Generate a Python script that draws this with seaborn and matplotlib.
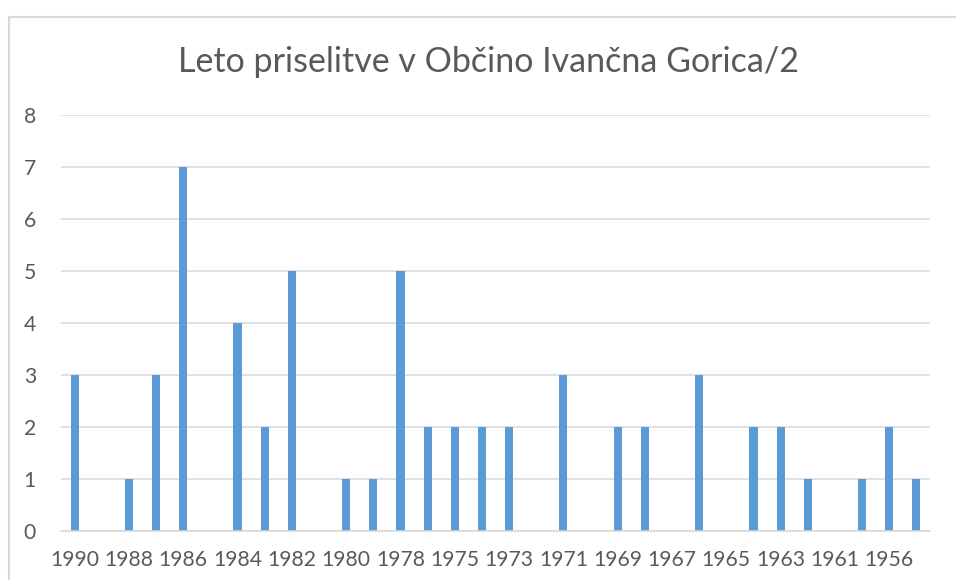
import matplotlib
matplotlib.use("Agg")
import matplotlib.pyplot as plt
import seaborn as sns
import pandas as pd
from matplotlib.lines import Line2D

title = "Leto priselitve v Občino Ivančna Gorica/2"
years = ["1990", "1989", "1988", "1987", "1986", "1985", "1984", "1983",
         "1982", "1981", "1980", "1979", "1978", "1977", "1975", "1974",
         "1973", "1972", "1971", "1970", "1969", "1968", "1967", "1966",
         "1965", "1964", "1963", "1962", "1961", "1960", "1956", "1955"]
counts = [3, 0, 1, 3, 7, 0, 4, 2,
          5, 0, 1, 1, 5, 2, 2, 2,
          2, 0, 3, 0, 2, 2, 0, 3,
          0, 2, 2, 1, 0, 1, 2, 1]
yticks = [0, 1, 2, 3, 4, 5, 6, 7, 8]

df = pd.DataFrame({"leto": years, "n": counts})

sns.set_theme(style="white")
plt.rcParams["font.family"] = ["Lato", "DejaVu Sans"]

fig = plt.figure(figsize=(9.56, 5.8), dpi=100)
ax = fig.add_axes([61/956, 1-530.7/580, (930-61)/956, (530.7-115)/580])

sns.barplot(data=df, x="leto", y="n", order=years, color="#5b9bd5",
            saturation=1, width=0.3, linewidth=0, ax=ax)

ax.set_ylim(0, 8)
ax.set_xlim(-0.5, len(years) - 0.5)
ax.set_yticks(yticks)
ax.set_yticklabels([str(v) for v in yticks])
pos = list(range(0, len(years), 2))
ax.set_xticks(pos)
ax.set_xticklabels([years[i] for i in pos])
ax.set_xlabel("")
ax.set_ylabel("")
ax.tick_params(axis="both", length=0, labelsize=15.2, colors="#595959")
ax.tick_params(axis="y", pad=18)
ax.tick_params(axis="x", pad=14)
ax.yaxis.grid(True, color="#d9d9d9", linewidth=1.1)
ax.set_axisbelow(True)
for s in ["top", "right", "left"]:
    ax.spines[s].set_visible(False)
ax.spines["bottom"].set_color("#d9d9d9")
ax.spines["bottom"].set_linewidth(1.1)

fig.text(489/956, 1-62/580, title, ha="center", va="center",
         fontsize=24.5, color="#595959", fontweight="normal")

# chart border (left and top visible)
fig.add_artist(Line2D([8.5/956, 8.5/956], [0, 1-16.5/580], color="#d9d9d9", linewidth=1.5))
fig.add_artist(Line2D([8.5/956, 1], [1-16.5/580, 1-16.5/580], color="#d9d9d9", linewidth=1.5))

fig.savefig("out.png", dpi=100)
